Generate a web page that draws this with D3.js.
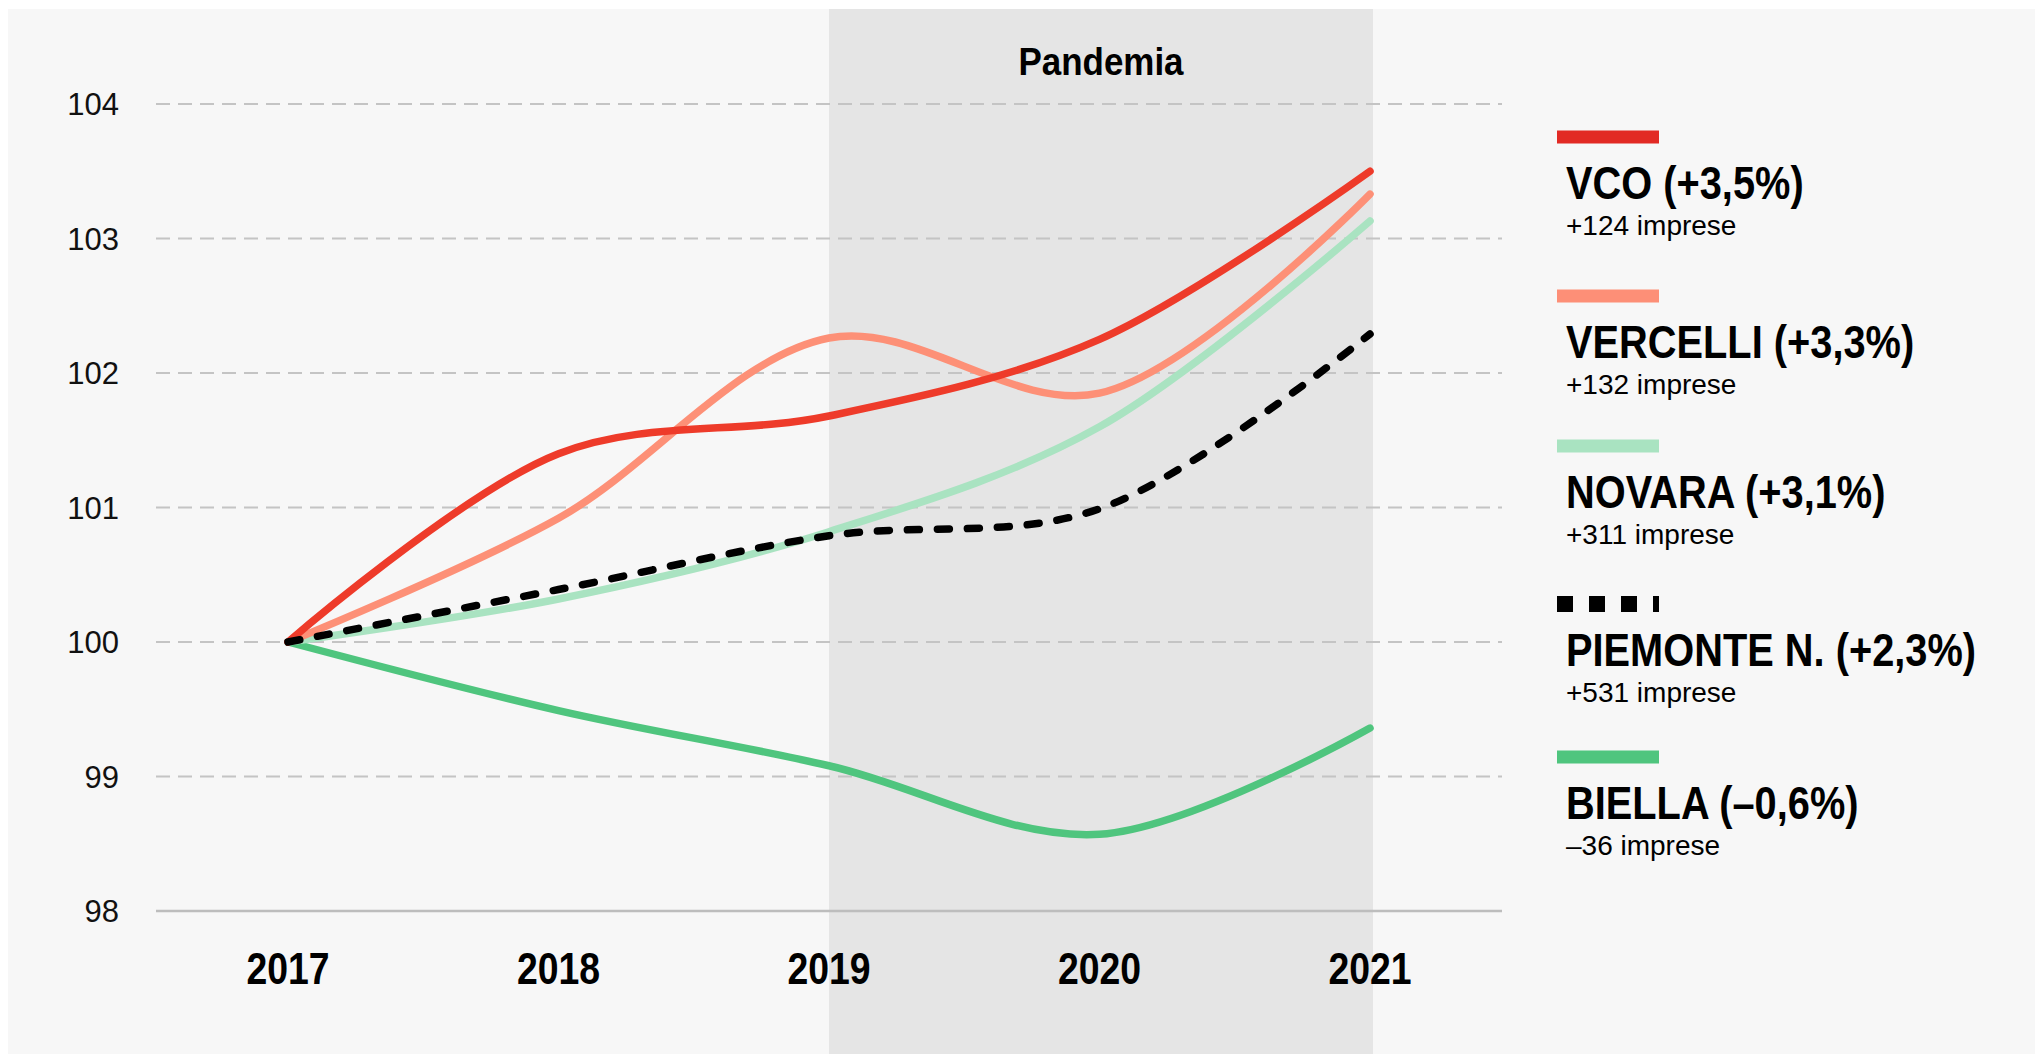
<!DOCTYPE html>
<html>
<head>
<meta charset="utf-8">
<script src="https://cdn.jsdelivr.net/npm/d3@7"></script>
<style>
  html, body { margin: 0; padding: 0; background: #fff; }
  svg { display: block; }
</style>
</head>
<body>
<div id="chart"></div>
<script>
var years = [2017, 2018, 2019, 2020, 2021];
var yTicks = [98, 99, 100, 101, 102, 103, 104];

var vco      = [100, 101.40, 101.68, 102.25, 103.50];
var vercelli = [100, 100.92, 102.26, 101.85, 103.33];
var novara   = [100, 100.32, 100.82, 101.60, 103.13];
var piemonte = [100, 100.39, 100.79, 100.99, 102.29];
var biella   = [100,  99.49,  99.08,  98.57,  99.36];

var seriesNames = ["VCO (+3,5%)", "VERCELLI (+3,3%)", "NOVARA (+3,1%)", "PIEMONTE N. (+2,3%)", "BIELLA (\u20130,6%)"];
var seriesNotes = ["+124 imprese", "+132 imprese", "+311 imprese", "+531 imprese", "\u201336 imprese"];
var seriesColors = ["#ee3b2a", "#fd9077", "#a9e3c1", "#000000", "#4fc57e"];
var legendColors = ["#e22a24", "#fd8f77", "#a9e3c1", "#000000", "#4fc57e"];
var seriesValues = [vco, vercelli, novara, piemonte, biella];
// drawing order: green ones below, red on top, dashed over everything
var drawOrder = [4, 2, 1, 0, 3];

var width = 2035, height = 1054;
var font = "'Liberation Sans', Arial, sans-serif";

var svg = d3.select("#chart")
    .append("svg")
    .attr("width", width)
    .attr("height", height)
    .attr("font-family", font);

svg.append("rect")
    .attr("x", 8).attr("y", 9)
    .attr("width", width - 8).attr("height", height - 9)
    .attr("fill", "#f7f7f7");

var x = d3.scaleLinear().domain([2017, 2021]).range([288, 1370]);
var y = d3.scaleLinear().domain([98, 104]).range([911, 104]);

// pandemic band
svg.append("rect")
    .attr("x", x(2019))
    .attr("y", 9)
    .attr("width", x(2021) - x(2019) + 3)
    .attr("height", height - 9)
    .attr("fill", "#e5e5e5");

svg.append("text")
    .attr("transform", "translate(" + ((x(2019) + x(2021) + 3) / 2) + ",75) scale(0.92,1)")
    .attr("text-anchor", "middle")
    .attr("font-weight", "bold")
    .attr("font-size", 38)
    .text("Pandemia");

// grid
var grid = svg.append("g");
grid.selectAll("line")
    .data(yTicks)
    .enter()
    .append("line")
    .attr("x1", 156).attr("x2", 1502)
    .attr("y1", d => y(d)).attr("y2", d => y(d))
    .attr("stroke", d => d === 98 ? "#bdbdbd" : "#c4c4c4")
    .attr("stroke-width", d => d === 98 ? 2.5 : 2)
    .attr("stroke-dasharray", d => d === 98 ? null : "14,8");

grid.selectAll("text")
    .data(yTicks)
    .enter()
    .append("text")
    .attr("x", 119)
    .attr("y", d => y(d) + 11)
    .attr("text-anchor", "end")
    .attr("font-size", 31)
    .attr("fill", "#111")
    .text(d => d);

svg.append("g")
    .selectAll("text")
    .data(years)
    .enter()
    .append("text")
    .attr("transform", d => "translate(" + x(d) + ",984) scale(0.85,1)")
    .attr("text-anchor", "middle")
    .attr("font-weight", "bold")
    .attr("font-size", 44)
    .text(d => d);

var line = d3.line()
    .x((d, i) => x(years[i]))
    .y(d => y(d))
    .curve(d3.curveCatmullRom);

svg.append("g")
    .selectAll("path")
    .data(drawOrder)
    .enter()
    .append("path")
    .attr("d", k => line(seriesValues[k]))
    .attr("fill", "none")
    .attr("stroke", k => seriesColors[k])
    .attr("stroke-width", 7.5)
    .attr("stroke-linecap", "round")
    .attr("stroke-dasharray", k => k === 3 ? "12,18" : null);

// legend
var legendTop = [137, 296, 446, 604, 757];
var legend = svg.append("g")
    .selectAll("g")
    .data(seriesNames)
    .enter()
    .append("g")
    .attr("transform", (d, i) => "translate(1557," + legendTop[i] + ")");

legend.append("line")
    .attr("x1", 0).attr("x2", 102)
    .attr("stroke", (d, i) => legendColors[i])
    .attr("stroke-width", (d, i) => i === 3 ? 16 : 13)
    .attr("stroke-dasharray", (d, i) => i === 3 ? "16,16" : null);

legend.append("text")
    .attr("transform", "translate(9,62) scale(0.865,1)")
    .attr("font-weight", "bold")
    .attr("font-size", 46)
    .text(d => d);

legend.append("text")
    .attr("x", 9)
    .attr("y", 98)
    .attr("font-size", 28)
    .text((d, i) => seriesNotes[i]);
</script>
</body>
</html>
